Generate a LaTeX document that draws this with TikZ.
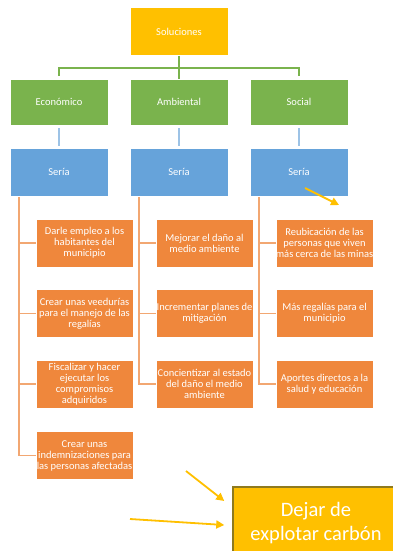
\documentclass[tikz,border=0pt]{standalone}
\usepackage{fontspec}
\setmainfont{Carlito}
\usetikzlibrary{arrows.meta}
\definecolor{gold}{HTML}{FFC000}
\definecolor{goldedge}{HTML}{8F7A1E}
\definecolor{grn}{HTML}{7AB34D}
\definecolor{blu}{HTML}{66A3DA}
\definecolor{blul}{HTML}{9DC3E6}
\definecolor{org}{HTML}{EF873C}
\definecolor{orgl}{HTML}{F2A772}
\tikzset{
  box/.style={draw=white, line width=0.6pt, inner sep=0pt, text=white, align=center, font=\fontsize{10.5}{11}\selectfont},
  solbox/.style={box, fill=gold, minimum width=98pt, minimum height=48pt},
  gbox/.style={box, fill=grn, minimum width=98pt, minimum height=46pt},
  bbox/.style={box, fill=blu, minimum width=98pt, minimum height=48pt},
  obox/.style={box, fill=org, minimum width=97pt, minimum height=48pt},
  gline/.style={draw=grn, line width=2pt},
  bline/.style={draw=blul, line width=2pt},
  oline/.style={draw=orgl, line width=1.6pt},
  yarrow/.style={draw=gold, line width=1.8pt, -{Triangle[length=8pt,width=8pt]}},
}
\begin{document}
\begin{tikzpicture}[x=1pt,y=1pt]
\useasboundingbox[fill=white] (0,0) rectangle (392,-551);
% top
\node[solbox] (sol) at (179,-31.5) {Soluciones};
\node[gbox] (eco) at (59,-102) {Económico};
\node[gbox] (amb) at (179,-102) {Ambiental};
\node[gbox] (soc) at (299,-102) {Social};
\node[bbox] (s1) at (59,-172) {Sería};
\node[bbox] (s2) at (179,-172) {Sería};
\node[bbox] (s3) at (299,-172) {Sería};
% column 1
\node[obox] (e1) at (84.5,-243) {Darle empleo a los\\habitantes del\\municipio};
\node[obox] (e2) at (84.5,-313.5) {Crear unas veedurías\\para el manejo de las\\regalías};
\node[obox] (e3) at (84.5,-384) {Fiscalizar y hacer\\ejecutar los\\compromisos\\adquiridos};
\node[obox] (e4) at (84.5,-455.5) {Crear unas\\indemnizaciones para\\las personas afectadas};
% column 2
\node[obox] (a1) at (204.5,-243) {Mejorar el daño al\\medio ambiente};
\node[obox] (a2) at (204.5,-313.5) {Incrementar planes de\\mitigación};
\node[obox] (a3) at (204.5,-384) {Concientizar al estado\\del daño el medio\\ambiente};
% column 3
\node[obox] (o1) at (324.5,-243) {Reubicación de las\\personas que viven\\más cerca de las minas};
\node[obox] (o2) at (324.5,-313.5) {Más regalías para el\\municipio};
\node[obox] (o3) at (324.5,-384) {Aportes directos a la\\salud y educación};
% big box
\node[draw=goldedge, line width=1.5pt, fill=gold, text=white, align=center, inner sep=0pt,
  minimum width=166pt, minimum height=73pt, font=\fontsize{20.5}{24}\selectfont]
  (dejar) at (316,-523.5) {Dejar de\\explotar carbón};
% green connectors
\draw[gline] ([yshift=3pt]eco.north) |- ([yshift=-12pt]sol.south) -| ([yshift=3pt]soc.north);
\draw[gline] (sol.south) -- (amb.north);
% blue connectors
\foreach \g/\b in {eco/s1, amb/s2, soc/s3}{
  \draw[bline] ([yshift=-3pt]\g.south) -- ([yshift=2pt]\b.north);
}
% orange connectors
\coordinate (c1) at ([xshift=9pt,yshift=-1pt]s1.south west);
\coordinate (c2) at ([xshift=9pt,yshift=-1pt]s2.south west);
\coordinate (c3) at ([xshift=9pt,yshift=-1pt]s3.south west);
\draw[oline] (c1) |- (e4.west);
\draw[oline] (c2) |- (a3.west);
\draw[oline] (c3) |- (o3.west);
\foreach \n in {e1,e2,e3}{ \draw[oline] (c1 |- \n.west) -- (\n.west); }
\foreach \n in {a1,a2}{ \draw[oline] (c2 |- \n.west) -- (\n.west); }
\foreach \n in {o1,o2}{ \draw[oline] (c3 |- \n.west) -- (\n.west); }
% yellow arrows
\coordinate (p1) at (305,-188);
\coordinate (p2) at (339,-205);
\coordinate (p3) at (186,-471);
\coordinate (p4) at (130,-519);
\draw[yarrow] (p1) -- (p2);
\draw[yarrow] (p3) -- ([xshift=-8pt,yshift=22.5pt]dejar.west);
\draw[yarrow] (p4) -- ([xshift=-8pt,yshift=-1.5pt]dejar.west);
\end{tikzpicture}
\end{document}
